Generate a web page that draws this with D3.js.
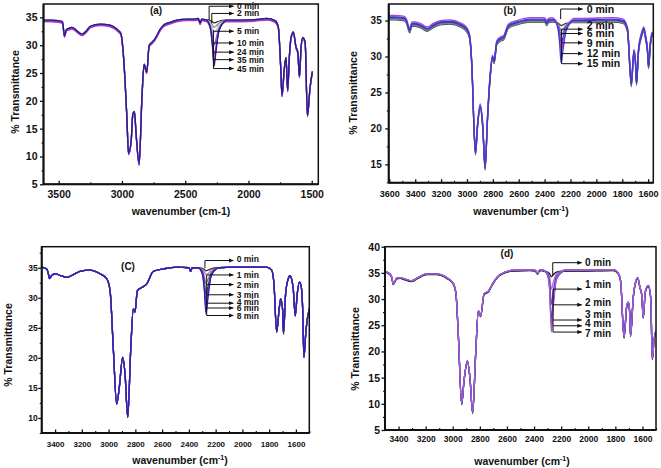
<!DOCTYPE html>
<html><head><meta charset="utf-8">
<script src="https://cdn.jsdelivr.net/npm/d3@7"></script>
<style>
html,body{margin:0;padding:0;background:#fff;}
text{font-family:"Liberation Sans",Arial,sans-serif;font-weight:bold;fill:#111;}
</style>
</head><body>
<svg id="chart" width="661" height="468"></svg>
<script>
// ---------------- DATA ----------------
// common wavenumbers of the ~2270 cm-1 (NCO) band region
const peakWn = [2330, 2300, 2285, 2272, 2258, 2235, 2190];

// Panel (a)
const wnA = [3620,3560,3500,3470,3454,3440,3422,3396,3350,3317,3280,3251,3172,3093,3027,3008,2987,2961,2948,2927,2914,2901,2888,2864,2843,2825,2804,2785,2764,2738,2700,2672,2620,2567,2488,2420,2396,2382,2370,2345,2175,2119,1950,1855,1790,1764,1745,1735,1716,1703,1690,1677,1663,1645,1624,1610,1597,1584,1571,1552,1534,1513,1495];
const baseA = [34.5,34.5,34.4,34.2,31.7,32.8,33.0,33.2,32.5,32.0,32.6,33.4,33.8,33.6,32.6,32.1,27.9,17.1,10.6,12.9,17.7,18.1,14.1,8.7,20.1,26.6,25.2,30.0,30.5,31.2,32.8,33.6,34.1,34.5,34.7,34.7,34.8,34.0,34.7,34.6,34.5,34.5,34.6,34.8,34.4,33.3,26.0,21.0,26.0,27.8,21.9,27.9,31.5,32.4,29.7,28.8,24.4,29.7,31.4,30.6,17.4,22.5,25.3];
const timesA = ["0 min","2 min","5 min","10 min","24 min","35 min","45 min"];
const peaksA = [
  [34.6,34.4,34.2,34.0,34.1,34.3,34.5],
  [34.6,34.2,33.7,33.3,33.5,34.0,34.5],
  [34.6,34.0,33.2,32.3,32.7,33.6,34.4],
  [34.6,33.6,32.0,30.2,31.2,33.2,34.4],
  [34.5,33.3,31.0,28.4,30.0,32.8,34.4],
  [34.5,33.1,30.3,27.2,29.3,32.6,34.4],
  [34.5,33.0,29.8,26.2,28.6,32.4,34.3]
];
const offsetsA = [0.0,-0.1,-0.1,-0.2,-0.3,-0.2,0.0];
const xTicksA = [3500,3000,2500,2000,1500];
const yTicksA = [5,10,15,20,25,30,35];

// Panel (b)
const wnB = [3605,3560,3490,3470,3459,3443,3425,3400,3350,3309,3260,3207,3129,3052,3001,2980,2962,2944,2934,2919,2898,2878,2860,2842,2821,2803,2790,2770,2744,2718,2680,2615,2512,2410,2395,2384,2370,2345,2175,2101,1870,1793,1759,1741,1730,1710,1698,1690,1674,1651,1633,1618,1605,1597,1582,1569,1556,1548];
const baseB = [35.4,35.4,35.3,35.0,34.4,33.6,34.5,34.5,34.2,33.8,34.3,34.7,34.8,34.4,33.7,32.8,28.6,19.4,16.6,20.3,23.1,20.3,14.5,21.2,27.2,29.9,29.3,31.9,32.4,32.6,34.2,34.7,35.1,35.1,35.0,34.6,35.0,35.1,35.0,35.0,35.1,34.9,33.7,28.6,26.1,30.7,29.3,26.3,30.9,33.0,33.8,32.5,30.9,28.6,31.9,33.1,32.8,31.9];
const timesB = ["0 min","2 min","6 min","9 min","12 min","15 min"];
const peaksB = [
  [35.1,35.0,34.8,34.6,34.7,34.9,35.0],
  [35.1,34.8,34.3,33.8,34.0,34.6,35.0],
  [35.1,34.6,33.9,33.0,33.4,34.3,34.9],
  [35.1,34.4,33.3,31.9,32.6,34.0,34.9],
  [35.0,34.2,32.6,30.4,31.7,33.7,34.8],
  [35.0,34.0,32.0,29.0,30.8,33.4,34.8]
];
const offsetsB = [-0.3,-0.2,-0.1,0.0,0.3,0.1];
const xTicksB = [3600,3400,3200,3000,2800,2600,2400,2200,2000,1800,1600];
const yTicksB = [15,20,25,30,35];

// Panel (c)
const wnC = [3500,3463,3450,3443,3425,3400,3360,3313,3260,3214,3139,3064,3014,2989,2964,2940,2920,2895,2877,2857,2835,2815,2803,2785,2753,2715,2666,2591,2491,2400,2387,2375,2345,2175,2068,1819,1781,1764,1744,1724,1714,1699,1693,1677,1657,1644,1630,1620,1605,1590,1574,1560,1550,1540,1525,1500];
const baseC = [35.1,34.8,34.0,33.2,33.7,34.0,33.7,33.4,33.9,34.4,34.6,34.0,33.2,31.2,21.2,12.3,15.1,20.1,17.3,10.1,21.2,28.2,27.6,31.2,31.7,32.3,34.4,34.8,35.1,35.0,34.4,35.0,35.0,35.0,35.1,35.1,34.6,32.3,24.3,28.4,29.8,27.9,24.0,30.7,33.2,33.7,32.9,31.5,27.0,30.7,32.6,31.8,28.4,20.1,24.6,28.2];
const timesC = ["0 min","1 min","2 min","3 min","4 min","6 min","8 min"];
const peaksC = [
  [35.0,34.9,34.7,34.5,34.6,34.8,35.0],
  [35.0,34.7,34.3,33.9,34.0,34.5,34.9],
  [35.0,34.5,33.6,32.4,33.0,34.2,34.9],
  [35.0,34.3,32.8,30.6,31.8,33.9,34.9],
  [35.0,34.2,32.2,29.2,31.0,33.7,34.9],
  [35.0,34.1,31.8,28.3,30.4,33.6,34.9],
  [35.0,34.0,31.4,27.3,29.8,33.5,34.9]
];
const offsetsC = [0,0,0,0,0,0,0];
const xTicksC = [3400,3200,3000,2800,2600,2400,2200,2000,1800,1600];
const yTicksC = [10,15,20,25,30,35];

// Panel (d)
const wnD = [3500,3468,3450,3439,3414,3389,3350,3303,3250,3193,3119,3045,2996,2976,2959,2934,2917,2892,2873,2853,2831,2811,2794,2769,2737,2700,2651,2553,2430,2390,2376,2360,2345,2175,2061,1815,1778,1761,1736,1716,1704,1695,1688,1667,1648,1635,1618,1606,1594,1579,1557,1539,1527,1515,1500];
const baseD = [35.3,34.9,34.2,32.9,34.0,34.1,33.8,33.5,34.2,34.8,34.8,34.1,33.0,31.0,23.3,10.0,14.4,18.2,15.0,8.3,19.5,27.8,26.8,31.0,31.5,33.2,34.7,35.5,35.6,35.5,34.9,35.5,35.6,35.5,35.5,35.6,34.9,33.5,22.7,28.7,29.4,27.8,23.0,30.6,33.5,34.1,32.2,31.0,26.5,31.4,32.6,30.3,18.6,22.1,24.0];
const timesD = ["0 min","1 min","2 min","3 min","4 min","7 min"];
const peaksD = [
  [35.5,35.3,35.0,34.4,34.8,35.3,35.5],
  [35.5,35.1,34.2,31.9,33.2,34.8,35.4],
  [35.5,34.9,33.2,29.0,31.5,34.4,35.4],
  [35.5,34.7,32.4,26.0,29.8,34.0,35.3],
  [35.5,34.6,32.0,24.9,29.2,33.9,35.3],
  [35.5,34.5,31.6,23.7,28.5,33.7,35.3]
];
const offsetsD = [-0.15,0,0,-0.1,0,0];
const xTicksD = [3400,3200,3000,2800,2600,2400,2200,2000,1800,1600];
const yTicksD = [5,10,15,20,25,30,35,40];

// annotation arrows (value positions, in data units)
const arrowTA = [37.0,35.7,32.5,30.4,28.75,27.4,25.8];
const arrowTB = [36.6,33.8,33.2,31.9,30.4,29.0];
const labelTB = [36.6,34.4,33.2,31.9,30.4,29.0];
const arrowTC = [36.2,33.8,32.2,30.5,29.1,28.3,27.05];
const labelTC = [36.45,33.8,32.2,30.5,29.3,28.3,26.9];
const arrowTD = [36.95,31.9,28.9,26.0,24.9,23.7];
const labelTD = [36.95,32.7,29.4,27.0,25.4,23.5];

// ---------------- LAYOUT / STYLE ----------------
const panels = [
  {name:"(a)", nameX:156, nameY:10, L:43.5, R:318.3, T:4, B:184.3, xDom:[3620,1448], yDom:[5,37.4],
   wn:wnA, base:baseA, times:timesA, peaks:peaksA, offs:offsetsA, xTicks:xTicksA, yTicks:yTicksA,
   xMinorStep:250, yMinorStep:2.5, xFont:10.5, yFont:10.5, xLabDy:14, yLabDx:6,
   colors:["#333333","#8a8a8a","#c8c8c8","#6a6ad0","#d040d0","#9a35c8","#20208a"],
   xTitle:"plain", xTitleX:181, xTitleY:215, yTitleX:15, yTitleY:92,
   arrowT:arrowTA, labelT:arrowTA, arrowStart:[2311,2290,2277,2277,2277,2277,2277],
   verts:[[2311,37.0,34.5],[2290,35.7,33.9],[2277,32.7,25.8]], arrowEnd:2118, labelWn:2090, annFont:8.5},
  {name:"(b)", nameX:510, nameY:10, L:388.7, R:653.3, T:4, B:182.7, xDom:[3605,1560], yDom:[12.45,37.3],
   wn:wnB, base:baseB, times:timesB, peaks:peaksB, offs:offsetsB, xTicks:xTicksB, yTicks:yTicksB,
   xMinorStep:100, yMinorStep:2.5, xFont:9, yFont:10, xLabDy:14, yLabDx:7,
   colors:["#444444","#8a8a8a","#5a7aa8","#3535b0","#b040e0","#3d3dcc"],
   xTitle:"sup", xTitleX:521, xTitleY:215, yTitleX:353, yTitleY:93,
   arrowT:arrowTB, labelT:labelTB, arrowStart:[2276,2269,2269,2269,2269,2269],
   verts:[[2276,36.6,35.2],[2269,33.8,29.0]], arrowEnd:2107, labelWn:2074, annFont:10.5},
  {name:"(C)", nameX:128, nameY:266, L:41.7, R:309.3, T:246.7, B:433, xDom:[3500,1500], yDom:[7.5,38.5],
   wn:wnC, base:baseC, times:timesC, peaks:peaksC, offs:offsetsC, xTicks:xTicksC, yTicks:yTicksC,
   xMinorStep:100, yMinorStep:2.5, xFont:8, yFont:8.5, xLabDy:14, yLabDx:4,
   colors:["#333333","#d060d0","#8a8a8a","#454545","#3a3ab0","#a835c8","#2424b0"],
   xTitle:"sup", xTitleX:180, xTitleY:464, yTitleX:8, yTitleY:345,
   arrowT:arrowTC, labelT:labelTC, arrowStart:[2280,2267,2267,2267,2267,2267,2267],
   verts:[[2280,36.2,34.9],[2267,33.8,27.05]], arrowEnd:2068, labelWn:2043, annFont:8.5},
  {name:"(d)", nameX:507, nameY:253, L:385, R:656, T:246.7, B:430, xDom:[3500,1500], yDom:[5,40],
   wn:wnD, base:baseD, times:timesD, peaks:peaksD, offs:offsetsD, xTicks:xTicksD, yTicks:yTicksD,
   xMinorStep:100, yMinorStep:2.5, xFont:8.5, yFont:10.5, xLabDy:12, yLabDx:5,
   colors:["#111111","#a070d0","#7a48c0","#2a2a2a","#8a38cc","#9a62d8"],
   xTitle:"sup", xTitleX:522, xTitleY:465, yTitleX:355, yTitleY:349,
   arrowT:arrowTD, labelT:labelTD, arrowStart:[2262,2260,2260,2260,2260,2260],
   verts:[[2262,36.95,34.6],[2260,31.9,23.7]], arrowEnd:2048, labelWn:2024, annFont:10}
];

const svg = d3.select("#chart");
const defs = svg.append("defs");
defs.append("marker").attr("id","arr").attr("viewBox","0 0 10 10").attr("refX",9).attr("refY",5)
  .attr("markerWidth",5).attr("markerHeight",5).attr("orient","auto")
  .append("path").attr("d","M0,1 L10,5 L0,9 z").attr("fill","#111");

panels.forEach((p, pi) => {
  const x = d3.scaleLinear().domain(p.xDom).range([p.L, p.R]);
  const y = d3.scaleLinear().domain(p.yDom).range([p.B, p.T]);
  const g = svg.append("g");
  defs.append("clipPath").attr("id","clip"+pi).append("rect")
    .attr("x",p.L).attr("y",p.T).attr("width",p.R-p.L).attr("height",p.B-p.T);

  const line = d3.line().x(d=>x(d[0])).y(d=>y(d[1])).curve(d3.curveMonotoneX);
  const cg = g.append("g").attr("clip-path","url(#clip"+pi+")");
  p.times.forEach((t, i) => {
    const off = p.offs[i];
    const pts = p.wn.map((w,j)=>[w, p.base[j]+off])
      .concat(peakWn.map((w,j)=>[w, p.peaks[i][j]+off]))
      .sort((a,b)=>b[0]-a[0]);
    cg.append("path").attr("d", line(pts)).attr("fill","none")
      .attr("stroke", p.colors[i]).attr("stroke-width",1.3).attr("stroke-linejoin","round");
  });

  // minor ticks
  const xMin = Math.min(...p.xDom), xMax = Math.max(...p.xDom);
  const xMinor = d3.range(Math.ceil(xMin/p.xMinorStep)*p.xMinorStep, xMax+0.001, p.xMinorStep)
    .filter(v=>!p.xTicks.includes(v));
  const yMinor = d3.range(Math.ceil(p.yDom[0]/p.yMinorStep)*p.yMinorStep, p.yDom[1]+0.001, p.yMinorStep)
    .filter(v=>!p.yTicks.includes(v));

  const bx = g.append("g").attr("transform",`translate(0,${p.B})`)
    .call(d3.axisBottom(x).tickValues(p.xTicks).tickFormat(d3.format("d")).tickSizeInner(-3.5).tickSizeOuter(0).tickPadding(0));
  bx.select(".domain").remove();
  bx.selectAll(".tick line").attr("stroke","#111").attr("stroke-width",1.3);
  bx.selectAll("text").attr("font-size",p.xFont).attr("y",p.xLabDy).attr("dy","0").style("font-weight","bold").attr("fill","#111");
  const bxm = g.append("g").attr("transform",`translate(0,${p.B})`)
    .call(d3.axisBottom(x).tickValues(xMinor).tickFormat("").tickSizeInner(-2).tickSizeOuter(0));
  bxm.select(".domain").remove();
  bxm.selectAll(".tick line").attr("stroke","#111").attr("stroke-width",1.1);

  const ly = g.append("g").attr("transform",`translate(${p.L},0)`)
    .call(d3.axisLeft(y).tickValues(p.yTicks).tickFormat(d3.format("d")).tickSizeInner(3.5).tickSizeOuter(0).tickPadding(p.yLabDx-3.5));
  ly.select(".domain").remove();
  ly.selectAll(".tick line").attr("stroke","#111").attr("stroke-width",1.3);
  ly.selectAll("text").attr("font-size",p.yFont).style("font-weight","bold").attr("fill","#111");
  const lym = g.append("g").attr("transform",`translate(${p.L},0)`)
    .call(d3.axisLeft(y).tickValues(yMinor).tickFormat("").tickSizeInner(2).tickSizeOuter(0));
  lym.select(".domain").remove();
  lym.selectAll(".tick line").attr("stroke","#111").attr("stroke-width",1.1);

  // frame
  g.append("rect").attr("x",p.L).attr("y",p.T).attr("width",p.R-p.L).attr("height",p.B-p.T)
    .attr("fill","none").attr("stroke","#111").attr("stroke-width",1.5);
  g.append("line").attr("x1",p.L).attr("x2",p.L).attr("y1",p.T).attr("y2",p.B).attr("stroke","#111").attr("stroke-width",2);
  g.append("line").attr("x1",p.L).attr("x2",p.R).attr("y1",p.B).attr("y2",p.B).attr("stroke","#111").attr("stroke-width",2);

  // panel label
  g.append("text").attr("x",p.nameX).attr("y",p.nameY).attr("dy","0.35em").attr("text-anchor","middle")
    .attr("font-size",10).text(p.name);

  // axis titles
  const xt = g.append("text").attr("x",p.xTitleX).attr("y",p.xTitleY).attr("text-anchor","middle").attr("font-size",10.5);
  if (p.xTitle === "plain") {
    xt.text("wavenumber (cm-1)");
  } else {
    xt.append("tspan").text("wavenumber (cm");
    xt.append("tspan").attr("font-size",7).attr("dy",-4).text("-1");
    xt.append("tspan").attr("dy",4).text(")");
  }
  g.append("text").attr("transform",`translate(${p.yTitleX},${p.yTitleY}) rotate(-90)`)
    .attr("text-anchor","middle").attr("dy","0.35em").attr("font-size",10.5).text("% Transmittance");

  // annotations
  const ag = g.append("g");
  p.verts.forEach(v => {
    ag.append("line").attr("x1",x(v[0])).attr("x2",x(v[0])).attr("y1",y(v[1])).attr("y2",y(v[2]))
      .attr("stroke","#111").attr("stroke-width",1);
  });
  p.times.forEach((t,i) => {
    ag.append("line").attr("x1",x(p.arrowStart[i])).attr("x2",x(p.arrowEnd))
      .attr("y1",y(p.arrowT[i])).attr("y2",y(p.arrowT[i]))
      .attr("stroke","#111").attr("stroke-width",1).attr("marker-end","url(#arr)");
    ag.append("text").attr("x",x(p.labelWn)).attr("y",y(p.labelT[i])).attr("dy","0.35em")
      .attr("font-size",p.annFont).text(t);
  });
});
</script>
</body></html>
